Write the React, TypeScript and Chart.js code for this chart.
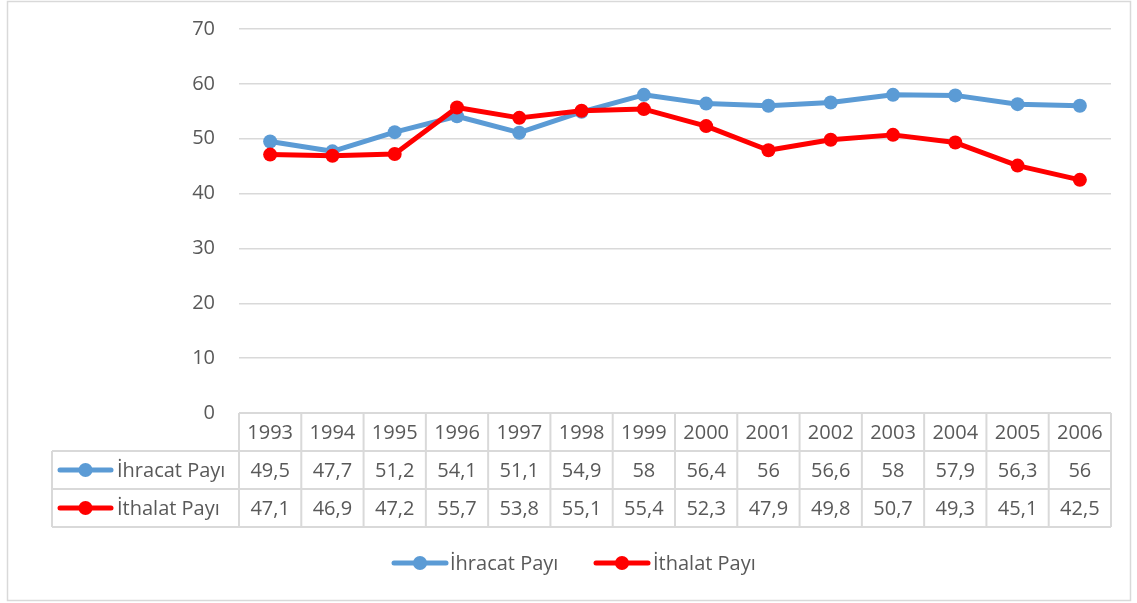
import React, { useEffect, useRef } from "react";
import { Chart, registerables } from "chart.js";

Chart.register(...registerables);

const years = ["1993", "1994", "1995", "1996", "1997", "1998", "1999", "2000", "2001", "2002", "2003", "2004", "2005", "2006"];
const ihracatPayi = [49.5, 47.7, 51.2, 54.1, 51.1, 54.9, 58, 56.4, 56, 56.6, 58, 57.9, 56.3, 56];
const ithalatPayi = [47.1, 46.9, 47.2, 55.7, 53.8, 55.1, 55.4, 52.3, 47.9, 49.8, 50.7, 49.3, 45.1, 42.5];
const seriesNames = ["İhracat Payı", "İthalat Payı"];
const seriesColors = ["#5B9BD5", "#FF0000"];
const yMin = 0;
const yMax = 70;
const yStep = 10;

const FONT = "'Open Sans', sans-serif";
const TEXT = "#595959";
const GRID = "#D9D9D9";

const fmt = (v: number) => String(v).replace(".", ",");

function drawMarker(ctx: CanvasRenderingContext2D, x1: number, x2: number, y: number, color: string) {
  ctx.save();
  ctx.strokeStyle = color;
  ctx.lineWidth = 5;
  ctx.lineCap = "round";
  ctx.beginPath();
  ctx.moveTo(x1, y);
  ctx.lineTo(x2, y);
  ctx.stroke();
  ctx.fillStyle = color;
  ctx.beginPath();
  ctx.arc((x1 + x2) / 2, y, 7, 0, Math.PI * 2);
  ctx.fill();
  ctx.restore();
}

const tablePlugin = {
  id: "tablePlugin",
  afterDraw(chart: any) {
    const ctx: CanvasRenderingContext2D = chart.ctx;
    const area = chart.chartArea;
    const xs = chart.scales.x;
    const left = area.left;
    const right = area.right;
    const top = area.bottom;
    const rowH = 38;
    const labelLeft = 52;
    const n = years.length;
    const colW = (right - left) / n;

    ctx.save();
    ctx.strokeStyle = GRID;
    ctx.lineWidth = 1.5;
    ctx.strokeRect(7.5, 1.5, 1123, 599);

    ctx.lineWidth = 2;
    ctx.strokeStyle = GRID;
    ctx.beginPath();
    ctx.moveTo(left, top);
    ctx.lineTo(right, top);
    for (let r = 1; r <= 3; r++) {
      ctx.moveTo(labelLeft, top + r * rowH);
      ctx.lineTo(right, top + r * rowH);
    }
    for (let i = 0; i <= n; i++) {
      const x = left + i * colW;
      ctx.moveTo(x, top);
      ctx.lineTo(x, top + 3 * rowH);
    }
    ctx.moveTo(labelLeft, top + rowH);
    ctx.lineTo(labelLeft, top + 3 * rowH);
    ctx.stroke();

    ctx.fillStyle = TEXT;
    ctx.font = `20px ${FONT}`;
    ctx.textAlign = "center";
    ctx.textBaseline = "middle";
    years.forEach((y, i) => {
      const cx = xs.getPixelForValue(i);
      ctx.fillText(y, cx, top + rowH / 2 + 1);
      ctx.fillText(fmt(ihracatPayi[i]), cx, top + rowH * 1.5 + 1);
      ctx.fillText(fmt(ithalatPayi[i]), cx, top + rowH * 2.5 + 1);
    });

    [0, 1].forEach((s) => {
      const cy = top + rowH * (1.5 + s);
      drawMarker(ctx, 60, 111, cy, seriesColors[s]);
      ctx.fillStyle = TEXT;
      ctx.textAlign = "left";
      ctx.fillText(seriesNames[s], 117, cy + 1);
    });

    const ly = 563;
    drawMarker(ctx, 394, 446, ly, seriesColors[0]);
    ctx.fillStyle = TEXT;
    ctx.textAlign = "left";
    ctx.fillText(seriesNames[0], 450, ly + 1);
    drawMarker(ctx, 596, 648, ly, seriesColors[1]);
    ctx.fillStyle = TEXT;
    ctx.fillText(seriesNames[1], 653, ly + 1);

    ctx.restore();
  },
};

export default function App() {
  const ref = useRef<HTMLCanvasElement | null>(null);

  useEffect(() => {
    if (!ref.current) return;
    const mk = (i: number, data: number[], order: number) => ({
      label: seriesNames[i],
      data,
      borderColor: seriesColors[i],
      backgroundColor: seriesColors[i],
      pointBackgroundColor: seriesColors[i],
      pointBorderColor: seriesColors[i],
      borderWidth: 5,
      pointRadius: 7,
      pointBorderWidth: 0,
      borderJoinStyle: "round" as const,
      borderCapStyle: "round" as const,
      tension: 0,
      order,
    });
    const chart = new Chart(ref.current, {
      type: "line",
      data: {
        labels: years,
        datasets: [mk(0, ihracatPayi, 1), mk(1, ithalatPayi, 0)],
      },
      options: {
        responsive: false,
        animation: false,
        layout: { padding: { left: 0, right: 26, top: 29, bottom: 190 } },
        plugins: {
          legend: { display: false },
          tooltip: { enabled: false },
          title: { display: false },
        },
        scales: {
          x: {
            type: "category",
            display: false,
            offset: true,
          },
          y: {
            min: yMin,
            max: yMax,
            ticks: {
              stepSize: yStep,
              color: TEXT,
              font: { family: FONT, size: 20 },
              padding: 0,
            },
            grid: {
              color: GRID,
              lineWidth: 1.5,
              drawTicks: true,
              tickLength: 24,
              tickColor: "rgba(0,0,0,0)",
            },
            border: { display: false },
            afterFit: (scale: any) => {
              scale.width = 239;
            },
          },
        },
      },
      plugins: [tablePlugin],
    });
    return () => chart.destroy();
  }, []);

  return (
    <div style={{ position: "absolute", left: 0, top: 0, width: 1137, height: 603, background: "#fff" }}>
      <canvas ref={ref} width={1137} height={603} />
    </div>
  );
}
